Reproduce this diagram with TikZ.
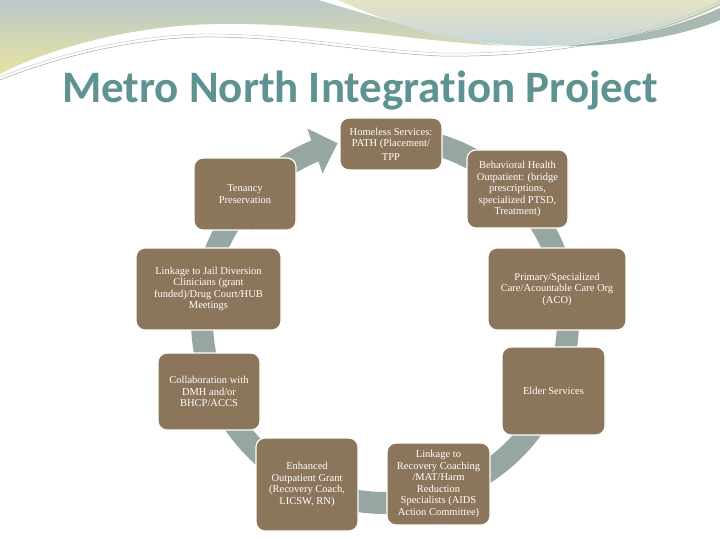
\documentclass[tikz,border=0pt]{standalone}
\usepackage{fontspec}
\setmainfont{Liberation Serif}
\newfontfamily\titlefont{Carlito}[Ligatures=NoCommon]
\usetikzlibrary{arrows.meta,bending}
\definecolor{boxbrown}{RGB}{140,118,91}
\definecolor{cyclegray}{RGB}{150,166,161}
\definecolor{titleteal}{RGB}{94,147,145}
\definecolor{wavegray}{RGB}{186,200,201}
\definecolor{waveyellow}{RGB}{232,227,162}
\definecolor{wavebeige}{RGB}{229,227,198}
\definecolor{waveblue}{RGB}{198,215,218}
\definecolor{wavegreen}{RGB}{168,185,175}
\definecolor{waveline}{RGB}{160,170,160}

\begin{document}
\begin{tikzpicture}[x=1pt,y=1pt,
    stage/.style={draw=white,line width=1.2pt,fill=boxbrown,rounded corners=9pt,
      text=white,align=center,inner sep=2pt,font=\fontsize{10.5}{11.5}\selectfont},
    cyc/.style={draw=cyclegray,line width=22pt,-{Triangle[width=46pt,length=24pt,flex]}}]
  % Page
  \useasboundingbox[fill=white] (0,0) rectangle (720,-540);
  % Waves at the top
  \shade[top color=wavegray,bottom color=waveyellow]
    (0,0) -- (318,0) .. controls (380,-18) and (440,-38) .. (505,-46)
    .. controls (420,-42) and (320,-22) .. (215,-24)
    .. controls (130,-26) and (50,-48) .. (0,-74) -- cycle;
  \shade[top color=wavebeige,bottom color=waveblue]
    (338,0) -- (720,0) -- (720,-6) .. controls (680,-25) and (620,-44) .. (540,-46)
    .. controls (460,-46) and (400,-28) .. (338,0) -- cycle;
  \fill[wavegreen] (720,-8) .. controls (680,-26) and (620,-42) .. (560,-46)
    .. controls (630,-47) and (690,-33) .. (720,-20) -- cycle;
  \draw[waveline,line width=0.5pt] (0,-80) .. controls (70,-52) and (150,-36) .. (215,-37)
    .. controls (300,-38) and (360,-52) .. (440,-56) .. controls (540,-58) and (650,-40) .. (720,-4);
  \draw[waveline!60,line width=0.5pt] (0,-77) .. controls (70,-49) and (150,-33) .. (215,-34)
    .. controls (300,-35) and (360,-49) .. (440,-53) .. controls (540,-55) and (650,-37) .. (720,-1);
  % Title
  \node[font=\titlefont\bfseries\fontsize{45}{50}\selectfont,text=titleteal,anchor=base] (title)
    at (360,-103) {Metro North Integration Project};
  % Cycle arrows
  \coordinate (hub) at (385,-320);
  \foreach \s/\e in {225/255,275/312,318/348,353/380,26/67,75/108,118/156,161/186,193/222}
    \draw[cyc] ([shift={(-\s:183pt)}]hub) arc[start angle=-\s,end angle=-\e,radius=183pt];
  % Stages
  \node[stage,minimum width=102pt,minimum height=52pt] (homeless) at (391,-144)
    {Homeless Services:\\PATH (Placement/\\[2pt]TPP};
  \node[stage,minimum width=101pt,minimum height=78pt] (behav) at (517.5,-189)
    {Behavioral Health\\Outpatient: (bridge\\prescriptions,\\specialized PTSD,\\Treatment)};
  \node[stage,minimum width=138pt,minimum height=82pt] (primary) at (557,-289)
    {Primary/Specialized\\Care/Acountable Care Org\\(ACO)};
  \node[stage,minimum width=103pt,minimum height=88pt] (elder) at (553.5,-391)
    {Elder Services};
  \node[stage,minimum width=103pt,minimum height=82pt] (recovery) at (438.5,-484)
    {Linkage to\\Recovery Coaching\\/MAT/Harm\\Reduction\\Specialists (AIDS\\Action Committee)};
  \node[stage,minimum width=102pt,minimum height=93pt] (enhanced) at (307,-484.5)
    {Enhanced\\Outpatient Grant\\(Recovery Coach,\\LICSW, RN)};
  \node[stage,minimum width=102pt,minimum height=77pt] (collab) at (209,-391.5)
    {Collaboration with\\DMH and/or\\BHCP/ACCS};
  \node[stage,minimum width=145pt,minimum height=82pt] (jail) at (208.5,-289)
    {Linkage to Jail Diversion\\Clinicians (grant\\funded)/Drug Court/HUB\\Meetings};
  \node[stage,minimum width=102pt,minimum height=72pt] (tenancy) at (245,-194)
    {Tenancy\\Preservation};
\end{tikzpicture}
\end{document}
